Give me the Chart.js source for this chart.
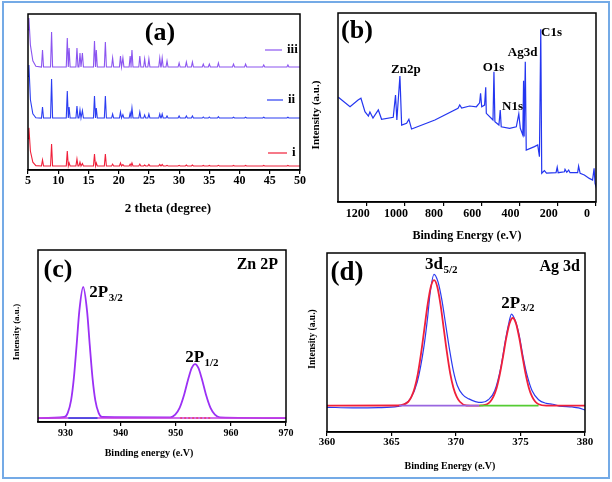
<!DOCTYPE html>
<html>
<head>
<meta charset="utf-8">
<script src="https://cdn.jsdelivr.net/npm/chart.js@4.4.1/dist/chart.umd.min.js"></script>
<style>
  body { margin: 0; background: #fff; }
  #wrap { position: relative; width: 612px; height: 482px; overflow: hidden; }
  #border { position: absolute; left: 2px; top: 1px; width: 604px; height: 474px; border: 2px solid #74aae6; }
  canvas { position: absolute; }
</style>
</head>
<body>
<div id="wrap">
  <div id="border"></div>
  <canvas id="ca" width="306" height="240" style="left:0;top:0"></canvas>
  <canvas id="cb" width="306" height="245" style="left:306px;top:0"></canvas>
  <canvas id="cc" width="306" height="236" style="left:0;top:240px"></canvas>
  <canvas id="cd" width="306" height="236" style="left:306px;top:240px"></canvas>
</div>
<script>
// ---------- (a) XRD patterns, offset stack ----------
const xrdHeadX = [5.0, 5.15, 5.4, 5.8, 6.3];
const xrdPeakPos = [7.4, 8.9, 11.5, 11.8, 13.1, 13.6, 14.0, 16.0, 16.3, 17.8, 19.0, 20.3, 20.7, 21.9, 22.2, 23.5, 24.3, 25.0, 26.8, 27.2, 28.0, 30.0, 31.2, 32.2, 34.0, 35.0, 36.5, 39.0, 41.0, 44.0, 48.0];
const xrdIHead = [20, 27, 12, 5, 2.8];
const xrdIBase = 2.6;
const xrdIPeaks = [6.4, 16.7, 12.2, 4.5, 7.1, 5.0, 4.2, 10.3, 4.5, 10.3, 3.8, 4.5, 3.5, 3.8, 4.5, 3.8, 3.2, 3.5, 3.5, 3.5, 3.0, 3.0, 3.2, 3.2, 2.9, 2.9, 3.0, 2.9, 2.9, 2.9, 2.9];
const xrdIIHead = [60, 67.3, 45, 36, 33.5];
const xrdIIBase = 33.3;
const xrdIIPeaks = [40.4, 58.3, 50.6, 40.4, 41.0, 38.5, 38.0, 47.4, 39.7, 47.4, 35.9, 37.2, 35.5, 36.5, 39.7, 37.2, 35.3, 35.9, 35.9, 35.9, 34.6, 34.6, 34.6, 34.6, 34.0, 34.0, 34.2, 33.8, 33.8, 33.8, 33.8];
const xrdIIIHead = [90, 97.4, 80, 70, 66.5];
const xrdIIIBase = 66;
const xrdIIIPeaks = [76.9, 88.5, 84.6, 78.2, 78.2, 75.0, 75.0, 82.7, 76.9, 82.0, 71.8, 73.0, 71.8, 73.0, 76.9, 73.0, 71.2, 71.2, 71.8, 71.8, 69.9, 68.6, 69.2, 69.2, 67.9, 67.9, 68.6, 67.9, 67.9, 67.3, 67.3];
const xrdTicks = [5, 10, 15, 20, 25, 30, 35, 40, 45, 50];

// ---------- (b) XPS survey ----------
const surveyX = [1348, 1287, 1245, 1230, 1209, 1191, 1183, 1167, 1139, 1122, 1061, 1049, 1042, 1026, 1017, 991, 979, 965, 843, 722, 713, 703, 661, 626, 609, 604, 598, 583, 577, 574, 539, 534, 529, 508, 501, 496, 452, 417, 404, 396, 383, 379, 376, 370, 365, 322, 305, 296, 289, 284, 270, 259, 209, 203, 198, 165, 162, 153, 143, 136, 96, 91, 83, 61, 35, 18, 10, 5, 1];
const surveyY = [55.4, 50.4, 54.0, 54.9, 47.8, 45.5, 47.6, 44.4, 48.7, 43.8, 44.8, 56.6, 43.4, 66.7, 40.7, 41.6, 43.8, 38.6, 43.4, 49.6, 51.3, 49.7, 50.8, 50.4, 52.5, 57.5, 50.4, 51.3, 60.7, 46.9, 43.4, 68.9, 42.5, 40.7, 48.7, 39.8, 39.0, 39.8, 46.6, 39.0, 35.4, 64.2, 34.6, 74.2, 27.5, 29.3, 30.2, 24.0, 91.4, 15.2, 16.6, 15.3, 15.5, 18.4, 15.5, 16.0, 17.3, 15.7, 16.9, 15.5, 15.5, 19.0, 15.2, 14.3, 12.5, 11.6, 17.8, 9.9, 8.5];
const surveyLabels = ['Zn2p', 'O1s', 'Ag3d', 'N1s', 'C1s'];
const surveyLabelX = [995, 536, 384, 437, 233];
const surveyLabelY = [69.8, 70.9, 78.8, 50.3, 89.4];
const surveyTicks = [0, 200, 400, 600, 800, 1000, 1200];

// ---------- (c) Zn 2p ----------
const znX = [925, 929.8, 930.4, 931.0, 931.5, 932.0, 932.5, 933.2, 933.9, 934.4, 934.9, 935.4, 936.0, 936.6, 949.0, 949.9, 950.7, 951.5, 952.3, 952.9, 953.5, 954.1, 954.7, 955.5, 956.3, 957.1, 958.0, 970];
const znY = [2.3, 2.9, 5.3, 12.6, 25.4, 44.4, 64.6, 78.5, 64.6, 44.4, 25.4, 12.6, 5.3, 2.9, 2.7, 4.3, 8.2, 15.7, 25.4, 31.4, 33.7, 31.4, 25.4, 15.7, 8.2, 4.3, 2.7, 2.3];
const znBaseY = 2.3;
const znBlueSeg = [930.5, 935.8];
const znRedSeg = [950.8, 956.5];
const znTicks = [930, 940, 950, 960, 970];

// ---------- (d) Ag 3d ----------
const agRawX = [360, 362, 364, 365.5, 366, 366.5, 367, 367.5, 367.8, 368.0, 368.3, 368.6, 368.9, 369.2, 369.5, 369.8, 370.1, 370.5, 371, 371.5, 372, 372.5, 373, 373.5, 373.8, 374.1, 374.3, 374.6, 374.9, 375.2, 375.5, 375.9, 376.4, 377, 377.5, 378, 379, 379.5, 380];
const agRawY = [13.8, 13.5, 13.6, 14.3, 15.5, 19, 28, 47, 64, 78, 88.1, 84, 74, 60, 46, 34, 26, 21, 18.5, 17, 16.5, 18, 23, 37, 50, 61, 65.9, 62, 54, 42, 32, 23, 18, 16, 15.5, 14.5, 14, 13.5, 12.3];
const agFitX = [360, 365.5, 366.3, 366.55, 366.8, 367.05, 367.3, 367.55, 367.8, 368.05, 368.3, 368.55, 368.8, 369.05, 369.3, 369.55, 369.8, 370.05, 370.3, 370.8, 371.5, 372.0, 372.4, 372.65, 372.9, 373.15, 373.4, 373.65, 373.9, 374.15, 374.4, 374.65, 374.9, 375.15, 375.4, 375.65, 375.9, 376.15, 376.4, 377.0, 380];
const agFitY = [14.7, 14.8, 16.9, 19.7, 24.7, 32.8, 44.3, 57.8, 71.2, 81.2, 84.9, 81.2, 71.2, 57.8, 44.3, 32.8, 24.7, 19.7, 16.9, 14.8, 14.7, 14.85, 15.5, 16.9, 19.7, 24.6, 32.3, 42.3, 52.7, 60.7, 63.7, 60.7, 52.7, 42.3, 32.3, 24.6, 19.7, 16.9, 15.5, 14.75, 14.7];
const agBaseY = 14.7;
const agPurpleSeg = [365.6, 371.8];
const agGreenSeg = [371.8, 376.4];
const agTicks = [360, 365, 370, 375, 380];

const SERIF = '"Liberation Serif", "Times New Roman", serif';
const f = (size) => `bold ${size}px ${SERIF}`;

function xy(xs, ys) { return xs.map((x, i) => ({ x: x, y: ys[i] })); }
function seg(xs, y) { return xs.map(x => ({ x: x, y: y })); }

// spikes for the XRD peaks, read as position + height above the trace's baseline
function xrdPoints(head, base, heights) {
  const pts = xy(xrdHeadX, head);
  xrdPeakPos.forEach((p, i) => {
    pts.push({ x: p - 0.17, y: base }, { x: p, y: heights[i] }, { x: p + 0.17, y: base });
  });
  pts.push({ x: 50, y: base });
  return pts;
}

function line(data, color, width, extra) {
  return Object.assign({ data: data, borderColor: color, borderWidth: width, pointRadius: 0, fill: false, tension: 0 }, extra || {});
}

const framePlugin = {
  id: 'frame',
  afterDraw(chart) {
    const { ctx, chartArea: a } = chart;
    ctx.save();
    ctx.strokeStyle = '#000';
    ctx.lineWidth = 1.5;
    ctx.strokeRect(a.left, a.top, a.right - a.left, a.bottom - a.top);
    ctx.restore();
  }
};

function text(ctx, str, x, y, font, align, rot) {
  ctx.save();
  ctx.font = font;
  ctx.fillStyle = '#000';
  ctx.textAlign = align || 'center';
  ctx.textBaseline = 'middle';
  ctx.translate(x, y);
  if (rot) ctx.rotate(rot);
  ctx.fillText(str, 0, 0);
  ctx.restore();
}

function subText(ctx, main, sub, x, y, size) {
  ctx.save();
  ctx.fillStyle = '#000';
  ctx.textAlign = 'left';
  ctx.textBaseline = 'middle';
  ctx.font = f(size);
  ctx.fillText(main, x, y);
  const w = ctx.measureText(main).width;
  ctx.font = f(Math.round(size * 0.64));
  ctx.fillText(sub, x + w + 0.5, y + size * 0.32);
  ctx.restore();
}

function panel(id, datasets, x, pad, xH, drawTexts) {
  return new Chart(document.getElementById(id), {
    type: 'line',
    data: { datasets: datasets },
    options: {
      responsive: false,
      animation: false,
      events: [],
      layout: { padding: pad },
      plugins: { legend: { display: false }, tooltip: { enabled: false } },
      scales: {
        x: {
          type: 'linear',
          min: x.min,
          max: x.max,
          reverse: !!x.reverse,
          afterBuildTicks(s) { s.ticks = x.ticks.map(v => ({ value: v })); },
          afterFit(s) { s.height = xH; },
          ticks: {
            font: { family: SERIF, size: x.size, weight: 'bold' }, color: '#000',
            padding: x.pad, labelOffset: x.offset || 0, maxRotation: 0,
            callback: v => String(v)
          },
          grid: { drawOnChartArea: false, tickLength: 4, color: '#000', lineWidth: 1.2 },
          border: { color: '#000', width: 1.5 }
        },
        y: { display: false, min: 0, max: 100 }
      }
    },
    plugins: [framePlugin, { id: 'texts', afterDraw: c => drawTexts(c) }]
  });
}

// (a)
panel('ca', [
  line(xrdPoints(xrdIIIHead, xrdIIIBase, xrdIIIPeaks), '#8b55f0', 1.1),
  line(xrdPoints(xrdIIHead, xrdIIBase, xrdIIPeaks), '#2b3df2', 1.1),
  line(xrdPoints(xrdIHead, xrdIBase, xrdIPeaks), '#f0203a', 1.1)
], { min: 5, max: 50, ticks: xrdTicks, size: 12, pad: 0 },
  { left: 28, top: 14, right: 3, bottom: 0 }, 70, c => {
    const ctx = c.ctx;
    text(ctx, '(a)', 160, 33, f(26));
    const legend = [['iii', '#8b55f0', 265, 282, 50], ['ii', '#2b3df2', 267, 283, 100], ['i', '#f0203a', 268, 287, 153]];
    legend.forEach(([name, col, x0, x1, y]) => {
      ctx.save();
      ctx.strokeStyle = col; ctx.lineWidth = 1.2;
      ctx.beginPath(); ctx.moveTo(x0, y); ctx.lineTo(x1, y); ctx.stroke();
      ctx.restore();
      text(ctx, name, x1 + 5, y, f(13), 'left');
    });
    text(ctx, '2 theta (degree)', 168, 209, f(13));
  });

// (b)
panel('cb', [
  line(xy(surveyX, surveyY), '#2436f0', 1.2)
], { min: 0, max: 1350, reverse: true, ticks: surveyTicks, size: 12, pad: 1, offset: -9 },
  { left: 32, top: 13, right: 16, bottom: 0 }, 43, c => {
    const ctx = c.ctx, sx = c.scales.x, sy = c.scales.y;
    text(ctx, '(b)', 51, 31, f(26));
    surveyLabels.forEach((s, i) => text(ctx, s, sx.getPixelForValue(surveyLabelX[i]), sy.getPixelForValue(surveyLabelY[i]), f(13)));
    text(ctx, 'Binding Energy (e.V)', 161, 236, f(12));
    text(ctx, 'Intensity (a.u.)', 10, 115, f(11), 'center', -Math.PI / 2);
  });

// (c)
panel('cc', [
  line(seg(znRedSeg, znBaseY), '#f03050', 1.2, { borderDash: [2, 2] }),
  line(seg(znBlueSeg, znBaseY), '#3040e0', 1.5),
  line(seg([925, 970], znBaseY), '#c43ce0', 1.5),
  line(xy(znX, znY), '#9b30f5', 1.8, { cubicInterpolationMode: 'monotone' })
], { min: 925, max: 970, ticks: znTicks, size: 10, pad: 1 },
  { left: 38, top: 10, right: 20, bottom: 0 }, 54, c => {
    const ctx = c.ctx, sx = c.scales.x, sy = c.scales.y;
    text(ctx, '(c)', 58, 30, f(26));
    text(ctx, 'Zn 2P', 278, 25, f(16), 'right');
    subText(ctx, '2P', '3/2', sx.getPixelForValue(934.3), sy.getPixelForValue(75), 17);
    subText(ctx, '2P', '1/2', sx.getPixelForValue(951.7), sy.getPixelForValue(37.2), 17);
    text(ctx, 'Binding energy (e.V)', 149, 213, f(10));
    text(ctx, 'Intensity (a.u.)', 17, 92, f(9), 'center', -Math.PI / 2);
  });

// (d)
panel('cd', [
  line(seg(agGreenSeg, agBaseY), '#55cc33', 1.8),
  line(seg(agPurpleSeg, agBaseY), '#9966e0', 1.8),
  line(xy(agFitX, agFitY), '#f0203a', 1.8, { cubicInterpolationMode: 'monotone' }),
  line(xy(agRawX, agRawY), '#2b3af0', 1.2, { cubicInterpolationMode: 'monotone' })
], { min: 360, max: 380, ticks: agTicks, size: 11, pad: 0 },
  { left: 21, top: 13, right: 27, bottom: 0 }, 44, c => {
    const ctx = c.ctx, sx = c.scales.x, sy = c.scales.y;
    text(ctx, '(d)', 41, 33, f(27));
    text(ctx, 'Ag 3d', 274, 27, f(16), 'right');
    subText(ctx, '3d', '5/2', sx.getPixelForValue(367.6), sy.getPixelForValue(93.3), 17);
    subText(ctx, '2P', '3/2', sx.getPixelForValue(373.5), sy.getPixelForValue(72), 17);
    text(ctx, 'Binding Energy (e.V)', 144, 226, f(10));
    text(ctx, 'Intensity (a.u.)', 7, 99, f(9.5), 'center', -Math.PI / 2);
  });
</script>
</body>
</html>
